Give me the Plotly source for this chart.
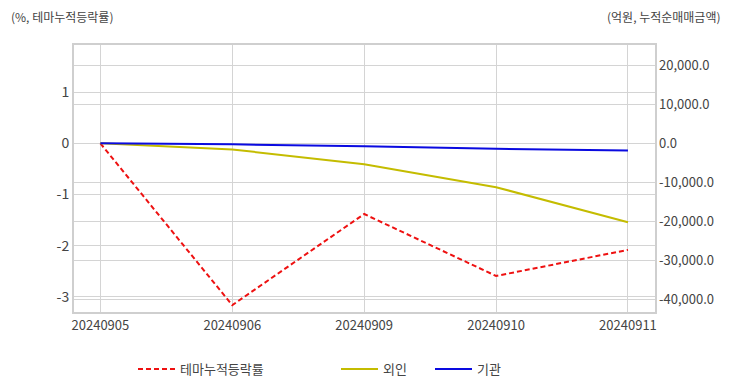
import plotly.graph_objects as go

dates = ["20240905", "20240906", "20240909", "20240910", "20240911"]
theme_return = [0.0, -3.16, -1.38, -2.59, -2.08]
foreign_net = [0.0, -1550.0, -5350.0, -11200.0, -20150.0]
institution_net = [0.0, -250.0, -760.0, -1400.0, -1790.0]

left_ticks = [1, 0, -1, -2, -3]
left_ticktext = ["1", "0", "-1", "-2", "-3"]
right_ticks = [20000, 10000, 0, -10000, -20000, -30000, -40000]
right_ticktext = ["20,000.0", "10,000.0", "0.0", "-10,000.0", "-20,000.0", "-30,000.0", "-40,000.0"]

FONT = "Noto Sans CJK KR, Noto Sans, sans-serif"
GRID = "#d4d4d4"
TXT = "#444444"

fig = go.Figure()
fig.add_trace(go.Scatter(x=dates, y=theme_return, name="테마누적등락률", mode="lines",
                         line=dict(color="#ee1111", width=2, dash="5px,3px"),
                         yaxis="y", legend="legend", showlegend=True))
fig.add_trace(go.Scatter(x=dates, y=foreign_net, name="외인", mode="lines",
                         line=dict(color="#c4bc00", width=2),
                         yaxis="y2", legend="legend2", showlegend=True))
fig.add_trace(go.Scatter(x=dates, y=institution_net, name="기관", mode="lines",
                         line=dict(color="#0a0ae0", width=2),
                         yaxis="y2", legend="legend3", showlegend=True))

leg_common = dict(orientation="h", xref="container", yref="container",
                  yanchor="middle", y=0.0587, xanchor="left", itemwidth=37,
                  font=dict(size=13, color=TXT, family=FONT), bgcolor="rgba(0,0,0,0)")

fig.update_layout(
    width=732, height=392, showlegend=True,
    margin=dict(l=74, r=77, t=45, b=80, autoexpand=False),
    paper_bgcolor="white", plot_bgcolor="white",
    font=dict(family=FONT, size=12, color=TXT),
    hovermode=False,
    xaxis=dict(type="category", range=[-0.2, 4.205], showgrid=True, gridcolor=GRID, gridwidth=1,
               showline=True, linecolor="#cfcfcf", linewidth=2, mirror=True,
               ticks="", tickfont=dict(size=13, color=TXT), zeroline=False),
    yaxis=dict(range=[-3.294, 1.922], tickmode="array", tickvals=left_ticks, ticktext=left_ticktext,
               showgrid=True, gridcolor=GRID, gridwidth=1,
               showline=True, linecolor="#cfcfcf", linewidth=2, mirror=True,
               zeroline=False, ticks="", tickfont=dict(size=14, color=TXT)),
    yaxis2=dict(overlaying="y", side="right", range=[-43110, 25150], tickmode="array",
                tickvals=right_ticks, ticktext=right_ticktext, showgrid=True, gridcolor=GRID, gridwidth=1,
                zeroline=False, ticks="", ticklabelstandoff=3, tickfont=dict(size=13, color=TXT)),
    legend=dict(x=133 / 732, **leg_common),
    legend2=dict(x=336 / 732, **leg_common),
    legend3=dict(x=430 / 732, **leg_common),
    annotations=[
        dict(text="(%, 테마누적등락률)", xref="paper", yref="paper", x=-0.112, y=1.108,
             xanchor="left", yanchor="middle", showarrow=False, font=dict(size=12, color=TXT)),
        dict(text="(억원, 누적순매매금액)", xref="paper", yref="paper", x=1.117, y=1.108,
             xanchor="right", yanchor="middle", showarrow=False, font=dict(size=12, color=TXT)),
    ],
)

fig.write_html("out.html", config={"displayModeBar": False},
               post_script="document.body.style.margin='0';")
